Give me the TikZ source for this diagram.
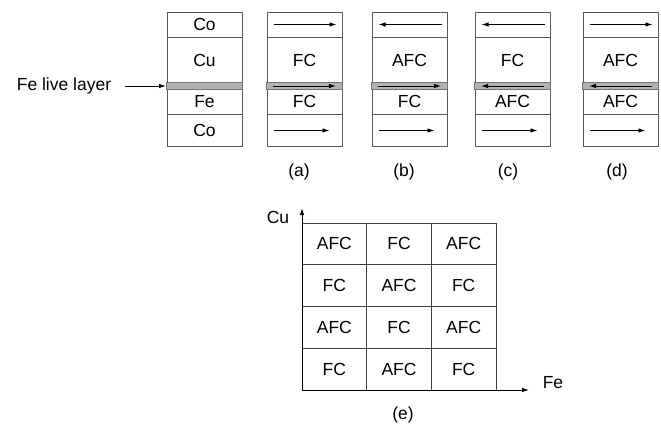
\documentclass[tikz,border=0pt]{standalone}
\usepackage{fontspec}
\setmainfont{Liberation Sans}
\usetikzlibrary{arrows.meta}
\begin{document}
\begin{tikzpicture}[x=1pt,y=-1pt,
 every node/.style={font=\fontsize{17.5}{20}\selectfont, inner sep=0pt},
 layer/.style={draw=black!65, line width=1pt, minimum width=75pt},
 band/.style={draw=black!55, fill=black!30, line width=0.9pt, minimum width=76pt, minimum height=6.5pt},
 rarr/.style={-{Latex[length=7pt,width=4.5pt]}, line width=0.9pt},
 larr/.style={{Latex[length=7pt,width=4.5pt]}-, line width=0.9pt},
 cell/.style={draw=black!75, line width=0.9pt, minimum width=64.67pt, minimum height=41.75pt},
 ]
\useasboundingbox (0,0) rectangle (661,429);

% reference stack
\node[layer, minimum height=25pt] (s01) at (204.5,24.5) {Co};
\node[layer, minimum height=46pt] (s02) at (204.5,60) {Cu};
\node[layer, minimum height=25pt] (s04) at (204.5,101.5) {Fe};
\node[layer, minimum height=32pt] (s05) at (204.5,130.5) {Co};
\node[band] (s03) at (204.5,86) {};
\node (fel) at (64,86) {Fe live layer};
\draw[rarr] ([xshift=14pt]fel.east) -- (s03.west);

\foreach \n/\L/\up/\lo/\td/\md/\lab/\lx in {a/267/FC/FC/rarr/rarr/(a)/299, b/372/AFC/FC/larr/rarr/(b)/404, c/475/FC/AFC/larr/larr/(c)/508, d/583/AFC/AFC/rarr/larr/(d)/617}
{
 \node[layer, minimum height=25pt] (\n1) at (\L+37.5,24.5) {};
 \node[layer, minimum height=46pt] (\n2) at (\L+37.5,60) {\up};
 \node[layer, minimum height=25pt] (\n4) at (\L+37.5,101.5) {\lo};
 \node[layer, minimum height=32pt] (\n5) at (\L+37.5,130.5) {};
 \node[band] (\n3) at (\L+37.5,86) {};
 \draw[\td] ([xshift=7pt]\n1.west) -- ([xshift=-6pt]\n1.east);
 \draw[\md] ([xshift=7pt]\n3.west) -- ([xshift=-7pt]\n3.east);
 \draw[rarr] ([xshift=7pt]\n5.west) -- ([xshift=-13pt]\n5.east);
 \node (\n lab) at (\lx,172) {\lab};
}

% grid (e)
\foreach \t [count=\i from 0] in {AFC,FC,AFC,FC,AFC,FC,AFC,FC,AFC,FC,AFC,FC}
{
 \pgfmathtruncatemacro{\r}{int(\i/3)}
 \pgfmathtruncatemacro{\c}{mod(\i,3)}
 \node[cell] (g\r\c) at (302+32.33+64.67*\c, 223+20.875+41.75*\r) {\t};
}
\coordinate (O) at (302,390);
\coordinate (ytip) at (302,208);
\coordinate (xtip) at (529,390);
\draw[rarr] (O) -- (ytip);
\draw[rarr] (O) -- (xtip);
\node (cu) at (278,217) {Cu};
\node (fe) at (553,383) {Fe};
\node (e) at (403,415) {(e)};
\end{tikzpicture}
\end{document}
